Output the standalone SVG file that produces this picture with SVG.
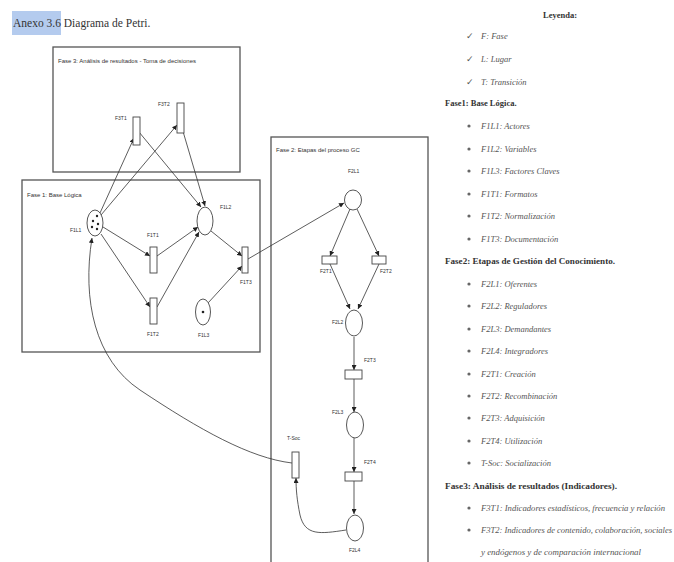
<svg xmlns="http://www.w3.org/2000/svg" width="674" height="562" viewBox="0 0 674 562">
<defs>
<marker id="ah" viewBox="0 0 10 10" refX="10" refY="5" markerWidth="5" markerHeight="5" orient="auto" markerUnits="userSpaceOnUse">
<path d="M0,0 L10,5 L0,10 z" fill="#222"/>
</marker>
</defs>
<style>
.box{fill:none;stroke:#555;stroke-width:1.3}
.pl{fill:#fff;stroke:#444;stroke-width:0.9}
.tr{fill:#fff;stroke:#444;stroke-width:0.9}
.arc{fill:none;stroke:#333;stroke-width:0.8;marker-end:url(#ah)}
.lbl{font-family:"Liberation Sans",Arial,sans-serif;font-size:5px;fill:#333}
.ph{font-family:"Liberation Sans",Arial,sans-serif;font-size:6px;fill:#333}
.lg{font-family:"Liberation Serif","Times New Roman",serif;font-size:8.5px;font-style:italic;fill:#555}
.lh{font-family:"Liberation Serif","Times New Roman",serif;font-size:8.5px;font-weight:bold;fill:#333}
.bul{fill:#666}
.tk{fill:#222}
</style>
<rect width="674" height="562" fill="#fff"/>
<g id="title">
<rect x="12" y="11" width="49" height="24" fill="#b4cbee"/>
<text x="13" y="27" font-family="Liberation Serif,'Times New Roman',serif" font-size="11.5" fill="#333">Anexo 3.6 <tspan>Diagrama de Petri.</tspan></text>
</g>
<g id="fase3">
<rect class="box" x="53" y="47" width="187" height="125"/>
<text class="ph" x="58" y="63">Fase 3: Análisis de resultados - Toma de decisiones</text>
</g>
<g id="fase1">
<rect class="box" x="22" y="180" width="238" height="172"/>
<text class="ph" x="27" y="197">Fase 1: Base Lógica</text>
</g>
<g id="fase2">
<rect class="box" x="271" y="137" width="157" height="430"/>
<text class="ph" x="276" y="152">Fase 2: Etapas del proceso GC</text>
</g>
<g id="connectors">
<line class="arc" x1="100" y1="213" x2="134" y2="138"/>
<line class="arc" x1="101" y1="215" x2="177" y2="125"/>
<line class="arc" x1="139" y1="132" x2="201" y2="207"/>
<line class="arc" x1="182" y1="128" x2="205" y2="206"/>
<line class="arc" x1="103" y1="227" x2="150" y2="256"/>
<line class="arc" x1="101" y1="234" x2="150" y2="307"/>
<line class="arc" x1="157" y1="256" x2="198" y2="227"/>
<line class="arc" x1="157" y1="307" x2="199" y2="232"/>
<line class="arc" x1="211" y1="231" x2="242" y2="256"/>
<line class="arc" x1="208" y1="303" x2="242" y2="266"/>
<line class="arc" x1="248" y1="259" x2="344" y2="203"/>
<line class="arc" x1="350" y1="209" x2="330" y2="256"/>
<line class="arc" x1="357" y1="209" x2="379" y2="256"/>
<line class="arc" x1="330" y1="264" x2="350" y2="309"/>
<line class="arc" x1="379" y1="264" x2="358" y2="309"/>
<line class="arc" x1="354" y1="337" x2="354" y2="370"/>
<line class="arc" x1="354" y1="379" x2="354" y2="412"/>
<line class="arc" x1="354" y1="438" x2="354" y2="472"/>
<line class="arc" x1="354" y1="481" x2="354" y2="514"/>
<path class="arc" d="M346,530 C320,534 305,536 300,515 C297,500 296,490 296,478"/>
<path class="arc" d="M292,463 C250,458 200,430 140,390 C95,360 82,300 92,238"/>
</g>
<g id="F1L1">
<ellipse class="pl" cx="95" cy="223" rx="8" ry="13"/>
<circle class="tk" cx="97" cy="216" r="1.2"/>
<circle class="tk" cx="93" cy="221" r="1.2"/>
<circle class="tk" cx="98" cy="224" r="1.2"/>
<circle class="tk" cx="92" cy="227" r="1.2"/>
<circle class="tk" cx="97" cy="229" r="1.2"/>
<text class="lbl" x="70" y="232">F1L1</text>
</g>
<g id="F1L2">
<ellipse class="pl" cx="205" cy="221" rx="8" ry="14"/>
<text class="lbl" x="220" y="209">F1L2</text>
</g>
<g id="F1L3">
<ellipse class="pl" cx="203" cy="312" rx="7.5" ry="13"/>
<circle class="tk" cx="203" cy="312" r="1.3"/>
<text class="lbl" x="198" y="337">F1L3</text>
</g>
<g id="F1T1">
<rect class="tr" x="150" y="247" width="7" height="26"/>
<text class="lbl" x="147" y="237">F1T1</text>
</g>
<g id="F1T2">
<rect class="tr" x="150" y="298" width="7" height="26"/>
<text class="lbl" x="147" y="336">F1T2</text>
</g>
<g id="F1T3">
<rect class="tr" x="242" y="247" width="6" height="26"/>
<text class="lbl" x="240" y="284">F1T3</text>
</g>
<g id="F3T1">
<rect class="tr" x="133" y="117" width="7" height="28"/>
<text class="lbl" x="115" y="120">F3T1</text>
</g>
<g id="F3T2">
<rect class="tr" x="177" y="103" width="7" height="30"/>
<text class="lbl" x="158" y="106">F3T2</text>
</g>
<g id="F2L1">
<ellipse class="pl" cx="353" cy="200" rx="8.5" ry="10"/>
<text class="lbl" x="348" y="173">F2L1</text>
</g>
<g id="F2T1">
<rect class="tr" x="322" y="256" width="15" height="8"/>
<text class="lbl" x="320" y="273">F2T1</text>
</g>
<g id="F2T2">
<rect class="tr" x="372" y="256" width="14" height="8"/>
<text class="lbl" x="380" y="273">F2T2</text>
</g>
<g id="F2L2">
<ellipse class="pl" cx="354" cy="323" rx="8.5" ry="13"/>
<text class="lbl" x="332" y="324">F2L2</text>
</g>
<g id="F2T3">
<rect class="tr" x="345" y="370" width="17" height="9"/>
<text class="lbl" x="364" y="362">F2T3</text>
</g>
<g id="F2L3">
<ellipse class="pl" cx="355" cy="425" rx="8.5" ry="13"/>
<text class="lbl" x="332" y="414">F2L3</text>
</g>
<g id="F2T4">
<rect class="tr" x="345" y="472" width="17" height="9"/>
<text class="lbl" x="364" y="464">F2T4</text>
</g>
<g id="F2L4">
<ellipse class="pl" cx="355" cy="528" rx="8.5" ry="13"/>
<text class="lbl" x="349" y="552">F2L4</text>
</g>
<g id="T-Soc">
<rect class="tr" x="292" y="452" width="7" height="26"/>
<text class="lbl" x="287" y="440">T-Soc</text>
</g>
<g id="legend">
<text class="lh" x="560" y="18" text-anchor="middle">Leyenda:</text>
<g class="lg">
<text x="466" y="39" font-style="normal">✓</text><text x="481" y="39">F: Fase</text>
<text x="466" y="62" font-style="normal">✓</text><text x="481" y="62">L: Lugar</text>
<text x="466" y="85" font-style="normal">✓</text><text x="481" y="85">T: Transición</text>
</g>
<text class="lh" x="445" y="106">Fase1: Base Lógica.</text>
<g class="lg">
<circle class="bul" cx="469" cy="126" r="1.6"/><text x="481" y="129">F1L1: Actores</text>
<circle class="bul" cx="469" cy="149" r="1.6"/><text x="481" y="152">F1L2: Variables</text>
<circle class="bul" cx="469" cy="171" r="1.6"/><text x="481" y="174">F1L3: Factores Claves</text>
<circle class="bul" cx="469" cy="194" r="1.6"/><text x="481" y="197">F1T1: Formatos</text>
<circle class="bul" cx="469" cy="216" r="1.6"/><text x="481" y="219">F1T2: Normalización</text>
<circle class="bul" cx="469" cy="239" r="1.6"/><text x="481" y="242">F1T3: Documentación</text>
</g>
<text class="lh" x="445" y="264" textLength="170" lengthAdjust="spacingAndGlyphs">Fase2: Etapas de Gestión del Conocimiento.</text>
<g class="lg">
<circle class="bul" cx="469" cy="284" r="1.6"/><text x="481" y="287">F2L1: Oferentes</text>
<circle class="bul" cx="469" cy="306" r="1.6"/><text x="481" y="309">F2L2: Reguladores</text>
<circle class="bul" cx="469" cy="329" r="1.6"/><text x="481" y="332">F2L3: Demandantes</text>
<circle class="bul" cx="469" cy="351" r="1.6"/><text x="481" y="354">F2L4: Integradores</text>
<circle class="bul" cx="469" cy="374" r="1.6"/><text x="481" y="377">F2T1: Creación</text>
<circle class="bul" cx="469" cy="396" r="1.6"/><text x="481" y="399">F2T2: Recombinación</text>
<circle class="bul" cx="469" cy="418" r="1.6"/><text x="481" y="421">F2T3: Adquisición</text>
<circle class="bul" cx="469" cy="441" r="1.6"/><text x="481" y="444">F2T4: Utilización</text>
<circle class="bul" cx="469" cy="463" r="1.6"/><text x="481" y="466">T-Soc: Socialización</text>
</g>
<text class="lh" x="445" y="489" textLength="172" lengthAdjust="spacingAndGlyphs">Fase3: Análisis de resultados (Indicadores).</text>
<g class="lg">
<circle class="bul" cx="469" cy="508" r="1.6"/><text x="481" y="511" textLength="184" lengthAdjust="spacingAndGlyphs">F3T1: Indicadores estadísticos, frecuencia y relación</text>
<circle class="bul" cx="469" cy="530" r="1.6"/><text x="481" y="533" textLength="191" lengthAdjust="spacingAndGlyphs">F3T2: Indicadores de contenido, colaboración, sociales</text>
<text x="481" y="555" textLength="160" lengthAdjust="spacingAndGlyphs">y endógenos y de comparación internacional</text>
</g>
</g>
</svg>
